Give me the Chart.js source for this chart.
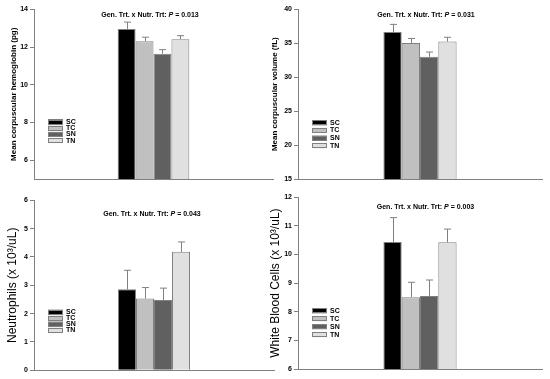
<!DOCTYPE html>
<html>
<head>
<meta charset="utf-8">
<script src="https://cdn.jsdelivr.net/npm/chart.js@4/dist/chart.umd.min.js"></script>
<style>
  body { margin: 0; background: #fff; }
  #wrap { position: relative; width: 550px; height: 379px; overflow: hidden; }
  canvas { position: absolute; }
</style>
</head>
<body>
<div id="wrap">
  <canvas id="mch" width="275" height="190" style="left:0px;top:0px"></canvas>
  <canvas id="mcv" width="288" height="190" style="left:262px;top:0px"></canvas>
  <canvas id="neut" width="275" height="189" style="left:0px;top:190px"></canvas>
  <canvas id="wbc" width="288" height="189" style="left:262px;top:190px"></canvas>
</div>
<script>
//? groups (one bar each)
const groups = ['SC', 'TC', 'SN', 'TN']
const groupColors = ['#000000', '#c0c0c0', '#606060', '#e0e0e0']

//? Mean corpuscular hemoglobin
const mchValues = [12.97, 12.32, 11.65, 12.42]
const mchErrors = [0.36, 0.21, 0.22, 0.19]
const mchTicks = [6, 8, 10, 12, 14]

//? Mean corpuscular volume
const mcvValues = [36.66, 35.05, 33.0, 35.24]
const mcvErrors = [1.12, 0.65, 0.7, 0.64]
const mcvTicks = [15, 20, 25, 30, 35, 40]

//? Neutrophils
const neutValues = [2.86, 2.53, 2.48, 4.18]
const neutErrors = [0.67, 0.39, 0.42, 0.35]
const neutTicks = [0, 1, 2, 3, 4, 5, 6]

//? White blood cells
const wbcValues = [10.44, 8.51, 8.55, 10.43]
const wbcErrors = [0.85, 0.52, 0.56, 0.46]
const wbcTicks = [6, 7, 8, 9, 10, 11, 12]

const pTexts = ['0.013', '0.031', '0.043', '0.003']

const FONT = "'Liberation Sans', Arial, sans-serif"
const GRAY = '#808080'

//* error bars (upper whisker only)
const errBars = {
  id: 'errBars',
  afterDatasetsDraw(chart, args, opts) {
    const ctx = chart.ctx
    const y = chart.scales.y
    ctx.save()
    ctx.strokeStyle = GRAY
    ctx.lineWidth = 1
    chart.data.datasets.forEach((ds, i) => {
      const bar = chart.getDatasetMeta(i).data[0]
      const top = y.getPixelForValue(ds.data[0] + opts.errors[i])
      const x = Math.round(bar.x) + 0.5
      ctx.beginPath()
      ctx.moveTo(x, bar.y)
      ctx.lineTo(x, top)
      ctx.moveTo(x - 3.5, top)
      ctx.lineTo(x + 3.5, top)
      ctx.stroke()
    })
    ctx.restore()
  }
}

//* legend boxes + annotation text
const extras = {
  id: 'extras',
  afterDraw(chart, args, opts) {
    const ctx = chart.ctx
    ctx.save()
    // legend
    ctx.font = `bold 7px ${FONT}`
    ctx.textBaseline = 'middle'
    chart.data.datasets.forEach((ds, i) => {
      const yy = opts.legY + i * opts.legGap
      ctx.fillStyle = ds.backgroundColor
      ctx.fillRect(opts.legX, yy - 2.5, 15, 5)
      ctx.strokeStyle = GRAY
      ctx.lineWidth = 1
      ctx.strokeRect(opts.legX + 0.5, Math.round(yy - 2.5) + 0.5, 14, 4)
      ctx.fillStyle = '#000'
      ctx.textAlign = 'left'
      ctx.fillText(ds.label, opts.legX + 18, yy)
    })
    // annotation
    const a = 'Gen. Trt. x Nutr. Trt: '
    const b = 'P'
    const c = ' = ' + opts.p
    ctx.font = `bold 7px ${FONT}`
    const wa = ctx.measureText(a).width
    const wc = ctx.measureText(c).width
    ctx.font = `italic bold 7px ${FONT}`
    const wb = ctx.measureText(b).width
    let x = opts.annX - (wa + wb + wc) / 2
    ctx.fillStyle = '#000'
    ctx.textAlign = 'left'
    ctx.font = `bold 7px ${FONT}`
    ctx.fillText(a, x, opts.annY)
    x += wa
    ctx.font = `italic bold 7px ${FONT}`
    ctx.fillText(b, x, opts.annY)
    x += wb
    ctx.font = `bold 7px ${FONT}`
    ctx.fillText(c, x, opts.annY)
    ctx.restore()
  }
}

function makeChart(id, values, errors, ticks, min, max, cfg) {
  const ctx = document.getElementById(id).getContext('2d')
  return new Chart(ctx, {
    type: 'bar',
    data: {
      labels: [''],
      datasets: groups.map((g, i) => ({
        label: g,
        data: [values[i]],
        backgroundColor: groupColors[i],
        borderColor: GRAY,
        borderWidth: 1,
        categoryPercentage: 0.3,
        barPercentage: 1.0,
      })),
    },
    options: {
      responsive: false,
      animation: false,
      devicePixelRatio: 1,
      layout: { padding: { top: cfg.top, right: cfg.right, left: 0, bottom: 0 } },
      scales: {
        x: {
          ticks: { display: false },
          grid: { display: false },
          border: { color: GRAY, width: 1 },
          afterFit: (s) => { s.height = cfg.bottom },
        },
        y: {
          min: min,
          max: max,
          afterBuildTicks: (s) => { s.ticks = ticks.map(v => ({ value: v })) },
          ticks: { color: '#000', padding: 2, font: { family: FONT, size: 7, weight: 'bold' } },
          grid: { drawOnChartArea: false, drawTicks: true, tickLength: 4, color: GRAY },
          border: { color: GRAY, width: 1 },
          title: {
            display: true,
            text: cfg.title,
            color: '#000',
            padding: { top: cfg.titlePad, bottom: 0 },
            font: { family: FONT, size: cfg.titleSize, weight: cfg.titleWeight },
          },
          afterFit: (s) => { s.width = cfg.axisX },
        },
      },
      plugins: {
        legend: { display: false },
        tooltip: { enabled: false },
        errBars: { errors: errors },
        extras: cfg.extras,
      },
    },
    plugins: [errBars, extras],
  })
}

makeChart('mch', mchValues, mchErrors, mchTicks, 5, 14, {
  top: 9.5, right: 2, bottom: 11, axisX: 34,
  title: 'Mean corpuscular hemoglobin (pg)', titleSize: 8, titleWeight: 'bold', titlePad: 9.2,
  extras: { legX: 48, legY: 122, legGap: 6.2, annX: 150, annY: 15, p: pTexts[0] },
})

makeChart('mcv', mcvValues, mcvErrors, mcvTicks, 15, 40, {
  top: 9.3, right: 8, bottom: 11, axisX: 36,
  title: 'Mean corpuscular volume (fL)', titleSize: 8, titleWeight: 'bold', titlePad: 8.2,
  extras: { legX: 50, legY: 122.7, legGap: 7.7, annX: 164, annY: 15, p: pTexts[1] },
})

makeChart('neut', neutValues, neutErrors, neutTicks, 0, 6, {
  top: 10.3, right: 1, bottom: 8.7, axisX: 34,
  title: 'Neutrophils (x 10³/uL)', titleSize: 12, titleWeight: 'normal', titlePad: 5.3,
  extras: { legX: 48, legY: 122.3, legGap: 5.9, annX: 152, annY: 24, p: pTexts[2] },
})

makeChart('wbc', wbcValues, wbcErrors, wbcTicks, 6, 12, {
  top: 7.3, right: 8, bottom: 10, axisX: 36,
  title: 'White Blood Cells (x 10³/uL)', titleSize: 12, titleWeight: 'normal', titlePad: 6.8,
  extras: { legX: 50, legY: 120.7, legGap: 8, annX: 163.5, annY: 17, p: pTexts[3] },
})
</script>
</body>
</html>
